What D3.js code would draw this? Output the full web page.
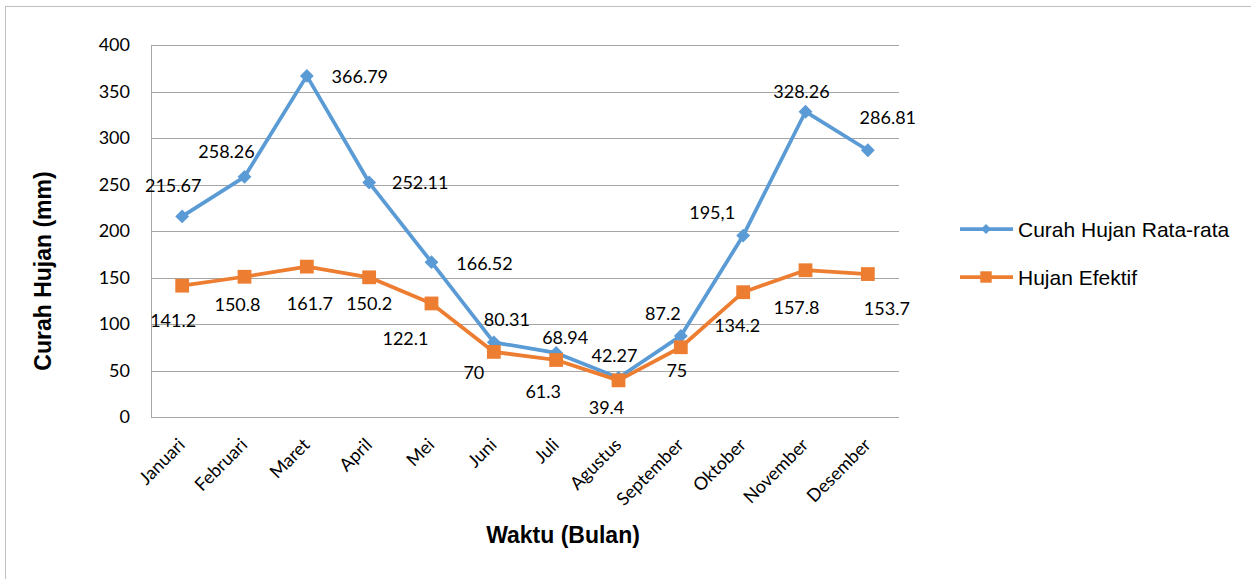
<!DOCTYPE html>
<html>
<head>
<meta charset="utf-8">
<script src="https://cdn.jsdelivr.net/npm/d3@7"></script>
<style>
html,body{margin:0;padding:0;background:#fff;}
svg{display:block;}
</style>
</head>
<body>
<svg id="chart" width="1251" height="579"></svg>
<script>
const months = ["Januari","Februari","Maret","April","Mei","Juni","Juli","Agustus","September","Oktober","November","Desember"];
const curahHujan = [215.67,258.26,366.79,252.11,166.52,80.31,68.94,42.27,87.2,195.1,328.26,286.81];
const curahLabels = ["215.67","258.26","366.79","252.11","166.52","80.31","68.94","42.27","87.2","195,1","328.26","286.81"];
const hujanEfektif = [141.2,150.8,161.7,150.2,122.1,70,61.3,39.4,75,134.2,157.8,153.7];
const efektifLabels = ["141.2","150.8","161.7","150.2","122.1","70","61.3","39.4","75","134.2","157.8","153.7"];
const yTicks = [0,50,100,150,200,250,300,350,400];
const seriesNames = ["Curah Hujan Rata-rata","Hujan Efektif"];

// label offsets (layout) relative to the point
const curahOff = [[-9,-31],[-18,-25],[53,1],[51,0],[53,1],[13,-23],[9,-15],[-4,-22],[-18,-22],[-31,-23],[-4,-20],[20,-33]];
const efektifOff = [[-9,35],[-7,28],[3,37],[0,26],[-26,35],[-20,21],[-13,32],[-12,27],[-4,23],[-6,33],[-9,37],[19,34]];

const svg = d3.select("#chart");
const blue = "#5B9BD5", orange = "#ED7D31", grid = "#A6A6A6";
const tickFont = "Lato, 'Open Sans', sans-serif";
const fs = "18px";

// outer frame (top & left visible)
svg.append("rect").attr("x",5.5).attr("y",6.5).attr("width",1260).attr("height",600)
  .attr("fill","none").attr("stroke","#BFBFBF").attr("stroke-width",1);

const pL = 151, pR = 899, pT = 45, pB = 417;
const x = d3.scaleBand().domain(months).range([pL,pR]);
const y = d3.scaleLinear().domain([0,400]).range([pB,pT]);
const cx = m => x(m) + x.bandwidth()/2;

// gridlines
svg.append("g").selectAll("line").data(yTicks).join("line")
  .attr("x1",pL).attr("x2",pR)
  .attr("y1",d=>Math.round(y(d))+0.5).attr("y2",d=>Math.round(y(d))+0.5)
  .attr("stroke",grid).attr("stroke-width",1);
// y axis line
svg.append("line").attr("x1",pL+0.5).attr("x2",pL+0.5).attr("y1",pT).attr("y2",pB+0.5)
  .attr("stroke",grid).attr("stroke-width",1);

// y tick labels
const yAxis = d3.axisLeft(y).tickValues(yTicks).tickSize(0).tickPadding(21);
const yg = svg.append("g").attr("transform",`translate(${pL},0)`).call(yAxis);
yg.select(".domain").remove();
yg.selectAll("text").attr("font-family",tickFont).attr("font-size",fs).attr("fill","#000");

// x tick labels
svg.append("g").selectAll("text").data(months).join("text")
  .attr("transform",d=>`translate(${cx(d)+4},446) rotate(-45)`)
  .attr("text-anchor","end")
  .attr("font-family",tickFont).attr("font-size",fs).attr("fill","#000")
  .text(d=>d);

// axis titles
svg.append("text").attr("x",563).attr("y",543).attr("text-anchor","middle")
  .attr("font-family","'Liberation Sans', Arial, sans-serif").attr("font-weight","bold")
  .attr("font-size","23px").text("Waktu (Bulan)");
svg.append("text").attr("transform","translate(51,271) rotate(-90)").attr("text-anchor","middle")
  .attr("font-family","'Liberation Sans', Arial, sans-serif").attr("font-weight","bold")
  .attr("font-size","23px").text("Curah Hujan (mm)");

const line = d3.line().x((d,i)=>cx(months[i])).y(d=>y(d));

// lines
svg.append("path").datum(curahHujan).attr("d",line).attr("fill","none")
  .attr("stroke",blue).attr("stroke-width",3.75).attr("stroke-linejoin","round");
svg.append("path").datum(hujanEfektif).attr("d",line).attr("fill","none")
  .attr("stroke",orange).attr("stroke-width",3.75).attr("stroke-linejoin","round");

const diamond = d3.symbol().type(d3.symbolSquare).size(96);
const square = d3.symbol().type(d3.symbolSquare).size(190);

svg.append("g").selectAll("path").data(curahHujan).join("path")
  .attr("d",diamond())
  .attr("transform",(d,i)=>`translate(${cx(months[i])},${y(d)}) rotate(45)`)
  .attr("fill",blue);
svg.append("g").selectAll("path").data(hujanEfektif).join("path")
  .attr("d",square())
  .attr("transform",(d,i)=>`translate(${cx(months[i])},${y(d)})`)
  .attr("fill",orange);

// data labels
svg.append("g").selectAll("text").data(curahHujan).join("text")
  .attr("x",(d,i)=>cx(months[i])+curahOff[i][0])
  .attr("y",(d,i)=>y(d)+curahOff[i][1])
  .attr("dy","0.36em").attr("text-anchor","middle")
  .attr("font-family",tickFont).attr("font-size",fs).attr("fill","#000")
  .text((d,i)=>curahLabels[i]);
svg.append("g").selectAll("text").data(hujanEfektif).join("text")
  .attr("x",(d,i)=>cx(months[i])+efektifOff[i][0])
  .attr("y",(d,i)=>y(d)+efektifOff[i][1])
  .attr("dy","0.36em").attr("text-anchor","middle")
  .attr("font-family",tickFont).attr("font-size",fs).attr("fill","#000")
  .text((d,i)=>efektifLabels[i]);

// legend
const legend = svg.append("g");
const legY = [229,277];
const legColors = [blue,orange];
seriesNames.forEach((name,i)=>{
  legend.append("line").attr("x1",960).attr("x2",1013).attr("y1",legY[i]).attr("y2",legY[i])
    .attr("stroke",legColors[i]).attr("stroke-width",3.75);
  if(i===0){
    legend.append("path").attr("d",d3.symbol().type(d3.symbolSquare).size(50)())
      .attr("transform",`translate(986,${legY[i]}) rotate(45)`).attr("fill",blue);
  } else {
    legend.append("path").attr("d",d3.symbol().type(d3.symbolSquare).size(130)())
      .attr("transform",`translate(986,${legY[i]})`).attr("fill",orange);
  }
  legend.append("text").attr("x",1018).attr("y",legY[i]).attr("dy","0.36em")
    .attr("font-family","'Liberation Sans', Arial, sans-serif").attr("font-size","21px")
    .attr("fill","#000").text(name);
});
</script>
</body>
</html>
